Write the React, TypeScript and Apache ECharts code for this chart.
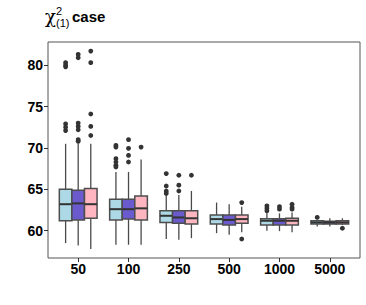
import { useEffect, useRef } from 'react';
import * as echarts from 'echarts';

// ---- data ----
const categories = ['50', '100', '250', '500', '1000', '5000'];
const yTickValues = [60, 65, 70, 75, 80];
const methodNames = ['Method 1', 'Method 2', 'Method 3'];

// [lower whisker, Q1, median, Q3, upper whisker] per category
const statsM1 = [
  [58.5, 61.2, 63.2, 65.0, 70.5],
  [58.3, 61.3, 62.6, 63.8, 67.1],
  [59.0, 61.0, 61.8, 62.4, 64.3],
  [59.7, 60.8, 61.4, 61.9, 63.4],
  [60.0, 60.7, 61.2, 61.45, 62.1],
  [60.5, 60.8, 61.0, 61.2, 61.3],
];
const statsM2 = [
  [58.2, 61.3, 63.3, 64.9, 70.5],
  [58.3, 61.4, 62.6, 63.8, 67.1],
  [58.9, 60.9, 61.6, 62.4, 64.3],
  [59.5, 60.7, 61.3, 61.9, 63.2],
  [59.95, 60.7, 61.2, 61.45, 62.1],
  [60.5, 60.8, 61.0, 61.15, 61.5],
];
const statsM3 = [
  [57.8, 61.5, 63.2, 65.1, 70.5],
  [58.3, 61.3, 62.7, 64.2, 68.6],
  [59.1, 60.8, 61.5, 62.4, 64.8],
  [59.8, 60.9, 61.4, 61.9, 62.9],
  [59.8, 60.7, 61.2, 61.5, 62.2],
  [60.7, 60.8, 61.0, 61.2, 61.5],
];

// outliers per category
const outliersM1 = [
  [80.3, 80.0, 79.8, 72.9, 72.5, 72.1],
  [70.3, 70.1, 68.7, 68.3, 67.9, 67.7],
  [66.9, 65.4, 64.8, 64.5],
  [],
  [63.0, 62.7, 62.4],
  [61.6],
];
const outliersM2 = [
  [81.3, 80.9, 73.0, 72.6, 72.2, 71.0, 70.8],
  [71.0, 69.95, 69.1, 68.3],
  [66.7, 65.5, 64.8],
  [],
  [62.9, 62.6],
  [],
];
const outliersM3 = [
  [81.7, 80.3, 74.1, 72.6, 71.5],
  [70.1],
  [66.7],
  [63.4, 59.0],
  [63.2, 62.8, 62.6],
  [60.3],
];

const allStats = [statsM1, statsM2, statsM3];
const allOutliers = [outliersM1, outliersM2, outliersM3];
const fillColors = ['#ADD8E6', '#6A5ACD', '#FFB6C1'];

const FONT = 'Liberation Sans, Arial, sans-serif';

function App() {
  const ref = useRef<HTMLDivElement>(null);
  useEffect(() => {
    if (!ref.current) return;
    const chart = echarts.init(ref.current, null, { renderer: 'svg' });

    const boxSeries = allStats.map((stats, idx) => ({
      type: 'custom',
      name: methodNames[idx],
      xAxisIndex: 0,
      yAxisIndex: 0,
      z: 3,
      data: stats.map((s, i) => [i, ...s]),
      encode: { x: 0, y: [1, 2, 3, 4, 5] },
      renderItem: (params: any, api: any) => {
        const ci = api.value(0);
        const band = api.size([1, 0])[0];
        const w = (band * 0.75) / 3;
        const off = (idx - 1) * w;
        const pLow = api.coord([ci, api.value(1)]);
        const pQ1 = api.coord([ci, api.value(2)]);
        const pMed = api.coord([ci, api.value(3)]);
        const pQ3 = api.coord([ci, api.value(4)]);
        const pHigh = api.coord([ci, api.value(5)]);
        const cx = pMed[0] + off;
        const l = cx - w / 2;
        const wStyle = { stroke: '#4a4a4a', lineWidth: 1.3 };
        return {
          type: 'group',
          children: [
            { type: 'line', shape: { x1: cx, y1: pHigh[1], x2: cx, y2: pQ3[1] }, style: wStyle },
            { type: 'line', shape: { x1: cx, y1: pQ1[1], x2: cx, y2: pLow[1] }, style: wStyle },
            {
              type: 'rect',
              shape: { x: l, y: pQ3[1], width: w, height: pQ1[1] - pQ3[1] },
              style: { fill: fillColors[idx], stroke: '#4d4d4d', lineWidth: 1.5 },
            },
            {
              type: 'line',
              shape: { x1: l, y1: pMed[1], x2: l + w, y2: pMed[1] },
              style: { stroke: '#333', lineWidth: 2 },
            },
          ],
        };
      },
    }));

    const outlierSeries = allOutliers.map((outs, idx) => {
      const data: number[][] = [];
      outs.forEach((vals, ci) => vals.forEach((v) => data.push([ci, v])));
      return {
        type: 'custom',
        name: methodNames[idx] + ' outliers',
        xAxisIndex: 0,
        yAxisIndex: 0,
        z: 4,
        data,
        encode: { x: 0, y: 1 },
        renderItem: (params: any, api: any) => {
          const p = api.coord([api.value(0), api.value(1)]);
          const band = api.size([1, 0])[0];
          const w = (band * 0.75) / 3;
          return {
            type: 'circle',
            shape: { cx: p[0] + (idx - 1) * w, cy: p[1], r: 2.4 },
            style: { fill: '#333' },
          };
        },
      };
    });

    const panelLeft = 48;
    const panelWidth = 312;
    const unit = panelWidth / 6.2;

    chart.setOption({
      animation: false,
      backgroundColor: '#fff',
      grid: [
        {
          left: panelLeft + 0.1 * unit,
          top: 42,
          width: unit * 6,
          height: 216,
          show: false,
        },
        {
          left: panelLeft,
          top: 42,
          width: panelWidth,
          height: 216,
          show: true,
          borderColor: '#555',
          borderWidth: 1,
          backgroundColor: 'transparent',
        },
      ],
      xAxis: [
        {
          type: 'category',
          gridIndex: 0,
          data: categories,
          axisLine: { show: false },
          axisTick: { show: true, alignWithLabel: true, length: 4, lineStyle: { color: '#333' } },
          axisLabel: { margin: 4, color: '#000', fontSize: 14, fontWeight: 'bold', fontFamily: FONT },
          splitLine: { show: false },
        },
        { type: 'value', gridIndex: 1, show: false, min: 0, max: 1 },
      ],
      yAxis: [
        {
          type: 'value',
          gridIndex: 0,
          min: 56.7,
          max: 82.8,
          offset: 0.1 * unit,
          axisLine: { show: false },
          splitLine: { show: false },
          axisTick: { show: true, length: 4, lineStyle: { color: '#333' }, customValues: yTickValues },
          axisLabel: {
            customValues: yTickValues,
            margin: 5,
            color: '#000',
            fontSize: 14,
            fontWeight: 'bold',
            fontFamily: FONT,
          },
        },
        { type: 'value', gridIndex: 1, show: false, min: 0, max: 1 },
      ],
      graphic: [
        { type: 'text', x: 45, y: 16, style: { text: 'χ', fontSize: 18, fontFamily: 'DejaVu Serif', fill: '#000', verticalAlign: 'middle' } },
        { type: 'text', x: 56, y: 11, style: { text: '2', fontSize: 11, fontFamily: FONT, fill: '#000', verticalAlign: 'middle' } },
        { type: 'text', x: 56, y: 23, style: { text: '(1)', fontSize: 11, fontFamily: FONT, fill: '#000', verticalAlign: 'middle' } },
        { type: 'text', x: 72, y: 16.5, style: { text: 'case', fontSize: 15, fontWeight: 'bold', fontFamily: FONT, fill: '#000', verticalAlign: 'middle' } },
      ],
      series: [...boxSeries, ...outlierSeries],
    });
    return () => chart.dispose();
  }, []);
  return <div ref={ref} style={{ position: 'absolute', left: 0, top: 0, width: 366, height: 305 }} />;
}

export default App;
